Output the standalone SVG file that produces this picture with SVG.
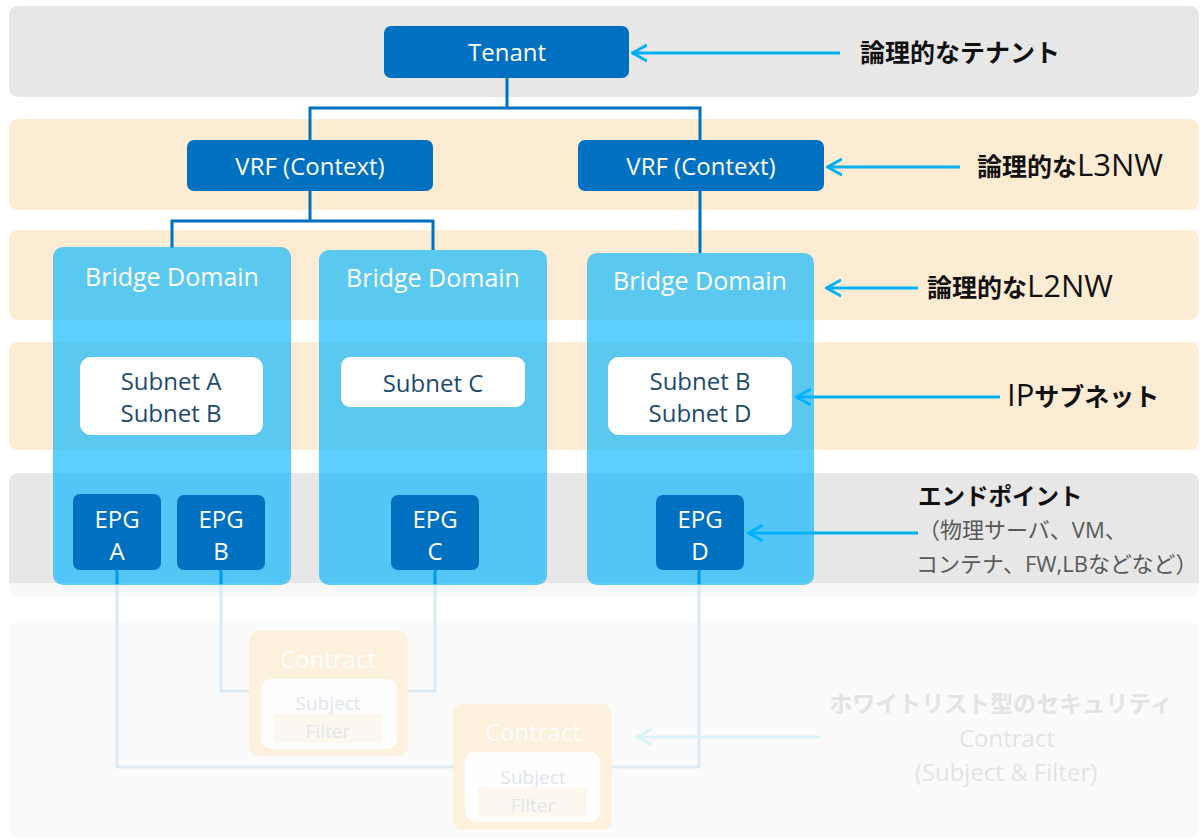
<svg xmlns="http://www.w3.org/2000/svg" width="1202" height="840" viewBox="0 0 1202 840">
<defs>
<style>
.band-g{fill:#e7e7e7}
.band-b{fill:#fcecd3}
.dark{fill:#0070c0}
.bd{fill:#00b4ff;fill-opacity:0.64}
.wt{font-family:"Open Sans","Noto Sans",sans-serif;font-size:24px;fill:#ffffff;text-anchor:middle}
.bdt{font-size:25px}
.sub{font-family:"Open Sans","Noto Sans",sans-serif;font-size:24px;fill:#1c4a6e;text-anchor:middle}
.lbl{font-family:"Open Sans","Noto Sans CJK JP",sans-serif;font-size:25px;fill:#111111}
.jb{font-family:"Noto Sans CJK JP",sans-serif;font-weight:bold}
.lat{font-size:31px}
.tree{fill:none;stroke:#0070c0;stroke-width:3}
.arr{fill:none;stroke:#00b0f0;stroke-width:3;marker-start:url(#chev)}
.farr{fill:none;stroke:#d9f1fb;stroke-width:3;marker-start:url(#fchev)}
.fline{fill:none;stroke:#dbe9f5;stroke-width:3}
.gray{font-family:"Open Sans","Noto Sans CJK JP",sans-serif;font-size:22px;fill:#595959}
.ftxt{font-family:"Open Sans","Noto Sans CJK JP",sans-serif;font-size:24px;fill:#e3e3e3;text-anchor:middle}
.ctr{fill:#fdf0dc}
.cwt{font-family:"Open Sans","Noto Sans",sans-serif;font-size:24px;fill:#ffffff;text-anchor:middle}
.csub{font-family:"Open Sans","Noto Sans",sans-serif;font-size:19px;fill:#dfe5ec;text-anchor:middle}
</style>
<marker id="chev" viewBox="0 0 16 18" refX="1" refY="9" markerWidth="16" markerHeight="18" markerUnits="userSpaceOnUse" orient="auto">
<path d="M15,1.5 L1.5,9 L15,16.5" fill="none" stroke="#00b0f0" stroke-width="3" stroke-linecap="round" stroke-linejoin="round"/>
</marker>
<marker id="fchev" viewBox="0 0 16 18" refX="1" refY="9" markerWidth="16" markerHeight="18" markerUnits="userSpaceOnUse" orient="auto">
<path d="M15,1.5 L1.5,9 L15,16.5" fill="none" stroke="#d9f1fb" stroke-width="3" stroke-linecap="round" stroke-linejoin="round"/>
</marker>
</defs>

<g id="bands">
<rect class="band-g" x="9" y="6" width="1190" height="91" rx="9"/>
<rect class="band-b" x="9" y="119" width="1190" height="91" rx="9"/>
<rect class="band-b" x="9" y="230" width="1190" height="90" rx="9"/>
<rect class="band-b" x="9" y="342" width="1190" height="108" rx="9"/>
<path class="band-g" d="M18,473 H1190 A9,9 0 0 1 1199,482 V583 H9 V482 A9,9 0 0 1 18,473 Z"/>
<path d="M9,583 H1199 V590 A7,7 0 0 1 1192,597 H16 A7,7 0 0 1 9,590 Z" fill="#f8f8f8"/>
<rect x="9" y="620" width="1190" height="218" rx="12" fill="#fafafa"/>
</g>

<g id="faded-connectors">
<path class="fline" d="M117,583 V767 H699 V583"/>
<path class="fline" d="M221,583 V691 H250"/>
<path class="fline" d="M435,583 V691 H407"/>
</g>

<g id="connectors">
<path class="tree" d="M507,78 V108 M310,140 V108 H700 V140"/>
<path class="tree" d="M310,191 V221 M172,248 V221 H433 V250"/>
<path class="tree" d="M700,191 V253"/>
<path class="tree" d="M117,570 V584 M221,570 V584 M435,570 V584 M699,570 V584"/>
<line class="arr" x1="632" y1="53" x2="840" y2="53"/>
<line class="arr" x1="827" y1="167" x2="960" y2="167"/>
<line class="arr" x1="826" y1="288" x2="918" y2="288"/>
<line class="arr" x1="796" y1="397" x2="1000" y2="397"/>
<line class="arr" x1="748" y1="533" x2="918" y2="533"/>
<line class="farr" x1="637" y1="737" x2="820" y2="737"/>
</g>

<g id="tenant">
<rect class="dark" x="384" y="26" width="245" height="52" rx="7"/>
<text class="wt" x="507" y="61">Tenant</text>
</g>

<g id="vrf1">
<rect class="dark" x="187" y="140" width="246" height="51" rx="7"/>
<text class="wt" x="310" y="175">VRF (Context)</text>
</g>
<g id="vrf2">
<rect class="dark" x="578" y="140" width="246" height="51" rx="7"/>
<text class="wt" x="701" y="175">VRF (Context)</text>
</g>

<g id="bd1">
<rect class="bd" x="53" y="247" width="238" height="338" rx="10"/>
<text class="wt bdt" x="172" y="286">Bridge Domain</text>
</g>
<g id="bd2">
<rect class="bd" x="319" y="250" width="228" height="335" rx="10"/>
<text class="wt bdt" x="433" y="287">Bridge Domain</text>
</g>
<g id="bd3">
<rect class="bd" x="587" y="253" width="227" height="332" rx="10"/>
<text class="wt bdt" x="700" y="290">Bridge Domain</text>
</g>

<g id="subnet-ab">
<rect x="80" y="357" width="183" height="78" rx="11" fill="#ffffff"/>
<text class="sub" x="171" y="390">Subnet A</text>
<text class="sub" x="171" y="422">Subnet B</text>
</g>
<g id="subnet-c">
<rect x="341" y="357" width="184" height="50" rx="9" fill="#ffffff"/>
<text class="sub" x="433" y="392">Subnet C</text>
</g>
<g id="subnet-bd">
<rect x="608" y="357" width="184" height="78" rx="11" fill="#ffffff"/>
<text class="sub" x="700" y="390">Subnet B</text>
<text class="sub" x="700" y="422">Subnet D</text>
</g>

<g id="epg-a">
<rect class="dark" x="73" y="494" width="88" height="76" rx="7"/>
<text class="wt" x="117" y="528">EPG</text>
<text class="wt" x="117" y="560">A</text>
</g>
<g id="epg-b">
<rect class="dark" x="177" y="495" width="88" height="75" rx="7"/>
<text class="wt" x="221" y="528">EPG</text>
<text class="wt" x="221" y="560">B</text>
</g>
<g id="epg-c">
<rect class="dark" x="391" y="495" width="88" height="75" rx="7"/>
<text class="wt" x="435" y="528">EPG</text>
<text class="wt" x="435" y="560">C</text>
</g>
<g id="epg-d">
<rect class="dark" x="656" y="495" width="88" height="75" rx="7"/>
<text class="wt" x="700" y="528">EPG</text>
<text class="wt" x="700" y="560">D</text>
</g>

<g id="contract1">
<rect class="ctr" x="249" y="631" width="159" height="125" rx="10"/>
<text class="cwt" x="328" y="668">Contract</text>
<rect x="261" y="679" width="136" height="70" rx="10" fill="#fefefe"/>
<text class="csub" x="328" y="710">Subject</text>
<rect x="273" y="714" width="110" height="29" rx="4" fill="#fdf8ef"/>
<text class="csub" x="328" y="738">Filter</text>
</g>
<g id="contract2">
<rect class="ctr" x="453" y="704" width="159" height="126" rx="10"/>
<text class="cwt" x="533" y="741">Contract</text>
<rect x="465" y="752" width="135" height="70" rx="10" fill="#fefefe"/>
<text class="csub" x="533" y="784">Subject</text>
<rect x="478" y="787" width="109" height="30" rx="4" fill="#fdf8ef"/>
<text class="csub" x="533" y="812">Filter</text>
</g>

<g id="labels">
<text class="lbl" x="860" y="62"><tspan class="jb">論理的なテナント</tspan></text>
<text class="lbl" x="977" y="176"><tspan class="jb">論理的な</tspan><tspan class="lat">L3NW</tspan></text>
<text class="lbl" x="927" y="297"><tspan class="jb">論理的な</tspan><tspan class="lat">L2NW</tspan></text>
<text class="lbl" x="1007" y="406"><tspan class="lat">IP</tspan><tspan class="jb">サブネット</tspan></text>
<text class="lbl" x="918" y="505" style="font-size:23.5px"><tspan class="jb">エンドポイント</tspan></text>
<text class="gray" x="918" y="538">（物理サーバ、VM、</text>
<text class="gray" x="916" y="572">コンテナ、FW,LBなどなど）</text>
<text class="ftxt" x="1001" y="712" style="font-size:23px"><tspan class="jb">ホワイトリスト型のセキュリティ</tspan></text>
<text class="ftxt" x="1007" y="747">Contract</text>
<text class="ftxt" x="1006" y="781">(Subject &amp; Filter)</text>
</g>
</svg>
